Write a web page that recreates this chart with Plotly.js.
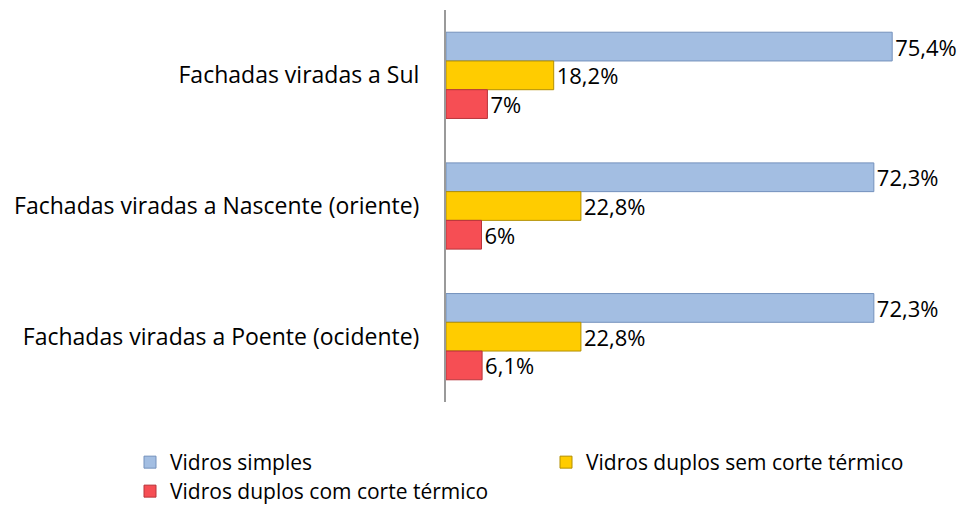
<!DOCTYPE html>
<html>
<head>
<meta charset="utf-8">
<script src="https://cdn.plot.ly/plotly-3.0.1.min.js"></script>
<style>html,body{margin:0;padding:0;background:#fff;}#chart{width:978px;height:527px;}</style>
</head>
<body>
<div id="chart"></div>
<script>
const categories = ["Fachadas viradas a Sul", "Fachadas viradas a Nascente (oriente)", "Fachadas viradas a Poente (ocidente)"];
const seriesNames = ["Vidros simples", "Vidros duplos sem corte térmico", "Vidros duplos com corte térmico"];
const vidrosSimples = [75.4, 72.3, 72.3];
const vidrosDuplosSem = [18.2, 22.8, 22.8];
const vidrosDuplosCom = [7, 6, 6.1];
const labelsSimples = ["75,4%", "72,3%", "72,3%"];
const labelsDuplosSem = ["18,2%", "22,8%", "22,8%"];
const labelsDuplosCom = ["7%", "6%", "6,1%"];

const FONT = "'Open Sans', 'Noto Sans', sans-serif";
const FS = 23;
const fills = ["#A3BEE2", "#FFCC00", "#F64E54"];
const edges = ["#7491BC", "#B38F00", "#B8343A"];
const values = [vidrosSimples, vidrosDuplosSem, vidrosDuplosCom];
const labels = [labelsSimples, labelsDuplosSem, labelsDuplosCom];
const legendIds = ["legend", "legend2", "legend3"];

const traces = values.map((v, i) => ({
  type: "bar",
  orientation: "h",
  name: seriesNames[i],
  legend: legendIds[i],
  y: categories,
  x: v,
  text: labels[i],
  textposition: "outside",
  constraintext: "none",
  cliponaxis: false,
  textfont: {family: FONT, size: 22, color: "#000"},
  marker: {color: fills[i], line: {color: edges[i], width: 1}},
  hoverinfo: "skip"
}));

const legendFont = {family: FONT, size: 21, color: "#000"};
function mkLegend(x, y) {
  return {orientation: "v", xref: "container", yref: "container",
          x: x, xanchor: "left", y: y, yanchor: "top",
          font: legendFont, itemwidth: 30, bgcolor: "rgba(0,0,0,0)"};
}
const layout = {
  width: 978, height: 527,
  margin: {l: 446, r: 29, t: 10, b: 125, autoexpand: false},
  paper_bgcolor: "#fff", plot_bgcolor: "#fff",
  barmode: "group",
  bargap: 0.34,
  bargroupgap: 0,
  font: {family: FONT, size: FS, color: "#000"},
  xaxis: {range: [0, 85], showgrid: false, zeroline: false, showline: false, showticklabels: false, ticks: "", fixedrange: true},
  yaxis: {autorange: "reversed", showline: true, linecolor: "#9A9A9A", linewidth: 2, ticks: "", ticklabelstandoff: 20,
          showgrid: false, tickfont: {family: FONT, size: FS, color: "#000"}},
  showlegend: true,
  legend: mkLegend(130 / 978, 0.1613),
  legend2: mkLegend(546 / 978, 0.1613),
  legend3: mkLegend(130 / 978, 0.1063)
};

Plotly.newPlot("chart", traces, layout, {displayModeBar: false, staticPlot: true});
</script>
</body>
</html>
